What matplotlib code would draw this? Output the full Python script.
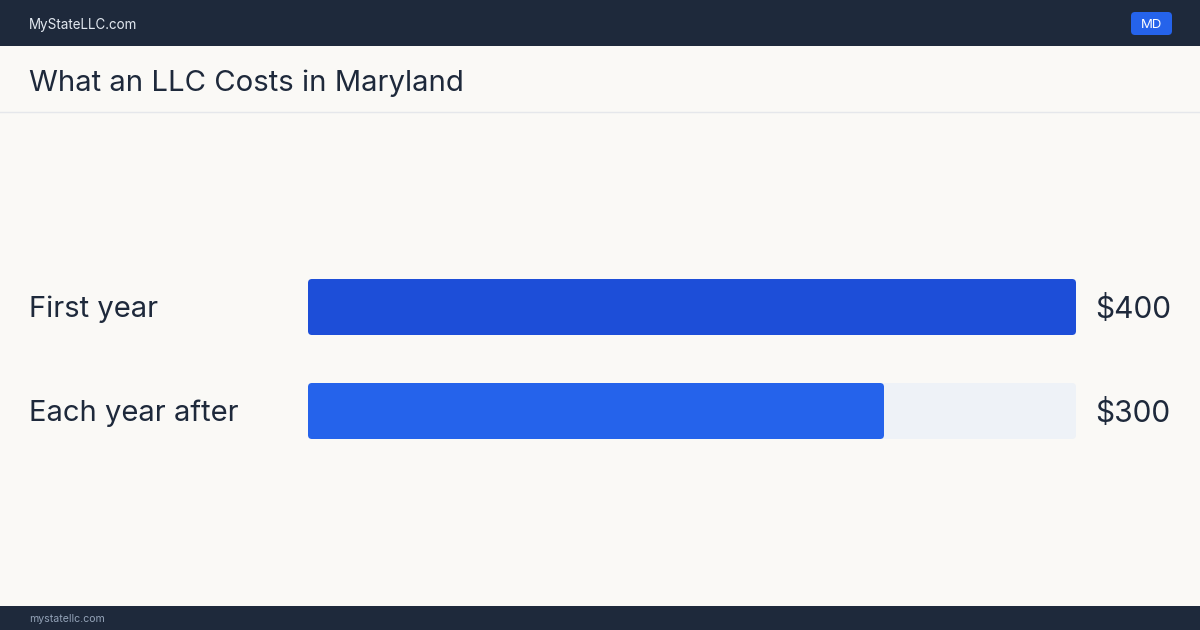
import matplotlib
matplotlib.use("Agg")
import matplotlib.pyplot as plt
from matplotlib.patches import FancyBboxPatch, Rectangle

categories = ["First year", "Each year after"]
costs = [400, 300]
cost_labels = ["$400", "$300"]
scale_max = 400
bar_colors = ["#1d4ed8", "#2563eb"]

site = "MyStateLLC.com"
footer = "mystatellc.com"
state = "MD"
title = "What an LLC Costs in Maryland"

BG = "#faf9f6"
DARK = "#1e293b"
TRACK = "#eef2f7"

plt.rcParams["font.family"] = ["Inter", "DejaVu Sans"]

W, H = 1200, 630
fig = plt.figure(figsize=(W / 100, H / 100), dpi=100, facecolor=BG)

# page furniture in pixel coordinates
bg = fig.add_axes([0, 0, 1, 1])
bg.set_xlim(0, W)
bg.set_ylim(H, 0)
bg.axis("off")
bg.add_patch(Rectangle((0, 0), W, 46, color=DARK, lw=0))
bg.add_patch(Rectangle((0, 606), W, 24, color=DARK, lw=0))
bg.plot([0, W], [111.5, 111.5], color="#e5e7eb", lw=1)
bg.text(29, 24.5, site, color="#e2e8f0", fontsize=9.7, va="center", ha="left")
bg.add_patch(FancyBboxPatch((1131, 12), 41, 23, boxstyle="round,pad=0,rounding_size=4",
                            color="#2563eb", lw=0))
bg.text(1151.5, 25, state, color="white", fontsize=9.5, va="center", ha="center")
bg.text(29, 83, title, color=DARK, fontsize=21.1, va="center", ha="left")
bg.text(29, 619, footer, color="#94a3b8", fontsize=7.6, va="center", ha="left")

# bar area: x from 308 to 1076 px, rows centred at 307 and 411 px
left, right = 308, 1076
top, bottom = 255, 463
ax = fig.add_axes([left / W, (H - bottom) / H, (right - left) / W, (bottom - top) / H])
ax.set_xlim(0, scale_max)
ax.set_ylim(len(categories) - 0.5, -0.5)
ax.axis("off")

bar_h = 56 / 104
x_per_px = scale_max / (right - left)
y_per_px = 1 / 104
aspect = y_per_px / x_per_px
rad = 4 * x_per_px
shift = 2.5 * y_per_px

for i, (cat, val, lab) in enumerate(zip(categories, costs, cost_labels)):
    y0 = i - bar_h / 2
    ax.add_patch(FancyBboxPatch((0, y0), scale_max, bar_h,
                                boxstyle=f"round,pad=0,rounding_size={rad}",
                                mutation_aspect=aspect, color=TRACK, lw=0))
    ax.add_patch(FancyBboxPatch((0, y0), val, bar_h,
                                boxstyle=f"round,pad=0,rounding_size={rad}",
                                mutation_aspect=aspect, color=bar_colors[i], lw=0))
    ax.text(-279 * x_per_px, i + shift, cat, color=DARK, fontsize=21, va="center",
            ha="left", clip_on=False)
    ax.text(scale_max + 19 * x_per_px, i + shift, lab, color=DARK, fontsize=21.5,
            va="center", ha="left", clip_on=False)

fig.savefig("out.png", dpi=100, facecolor=BG)
